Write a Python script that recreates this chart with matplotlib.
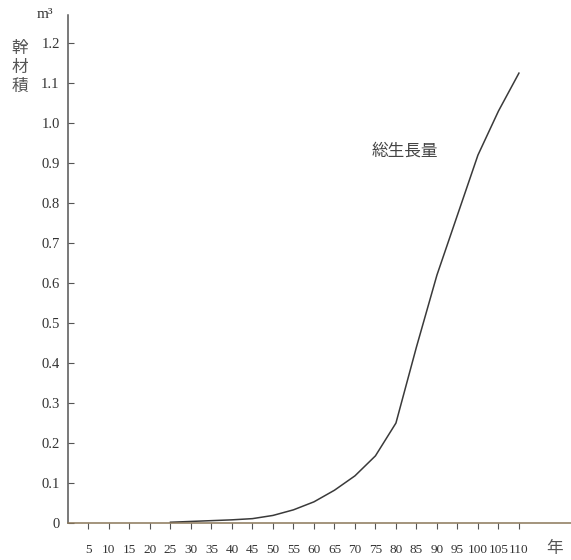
import matplotlib.pyplot as plt

plt.rcParams['font.family'] = ['Liberation Serif', 'Noto Sans CJK JP', 'DejaVu Sans']

# 林齢（年）と幹材積（m3）
ages = [25, 30, 35, 40, 45, 50, 55, 60, 65, 70, 75, 80, 85, 90, 95, 100, 105, 110]
volume = [0.002, 0.004, 0.006, 0.008, 0.011, 0.019, 0.033, 0.053, 0.082, 0.118,
          0.168, 0.250, 0.440, 0.620, 0.770, 0.920, 1.030, 1.125]

x_ticks = list(range(5, 115, 5))
y_ticks = [0, 0.1, 0.2, 0.3, 0.4, 0.5, 0.6, 0.7, 0.8, 0.9, 1.0, 1.1, 1.2]
y_labels = ['0'] + ['%.1f' % v for v in y_ticks[1:]]

fig = plt.figure(figsize=(5.71, 5.60), dpi=100)
ax = fig.add_axes([0.119, 0.066, 0.881, 0.907])

ax.plot(ages, volume, color='#3a3a3a', lw=1.1)

ax.set_xlim(0, 122.7)
ax.set_ylim(0, 1.27)

ax.spines['top'].set_visible(False)
ax.spines['right'].set_visible(False)
ax.spines['left'].set_color('#555555')
ax.spines['bottom'].set_color('#8a7658')
ax.spines['left'].set_linewidth(1.1)
ax.spines['bottom'].set_linewidth(1.1)

ax.set_xticks(x_ticks)
ax.set_xticklabels([str(t) for t in x_ticks], fontsize=9.5, color='#333333')
ax.set_yticks(y_ticks)
ax.set_yticklabels(y_labels, fontsize=10.5, color='#333333')
ax.tick_params(axis='x', direction='out', length=4, pad=11, color='#555555')
ax.tick_params(axis='y', direction='in', length=4, pad=6, color='#555555')

# ラベル
cjk = ['Noto Sans CJK JP', 'DejaVu Sans']
fig.text(45, 545, 'm³', transform=None, fontsize=11, color='#333333', ha='center', va='center')
for i, ch in enumerate('幹材積'):
    fig.text(20, 512 - i * 19, ch, transform=None, fontsize=12, color='#555555',
             ha='center', va='center', family=cjk)
fig.text(555, 12, '年', transform=None, fontsize=12, color='#555555',
         ha='center', va='center', family=cjk)
ax.text(74, 0.93, '総生長量', fontsize=12, color='#444444', ha='left', va='center', family=cjk)

fig.savefig('out.png', dpi=100)
